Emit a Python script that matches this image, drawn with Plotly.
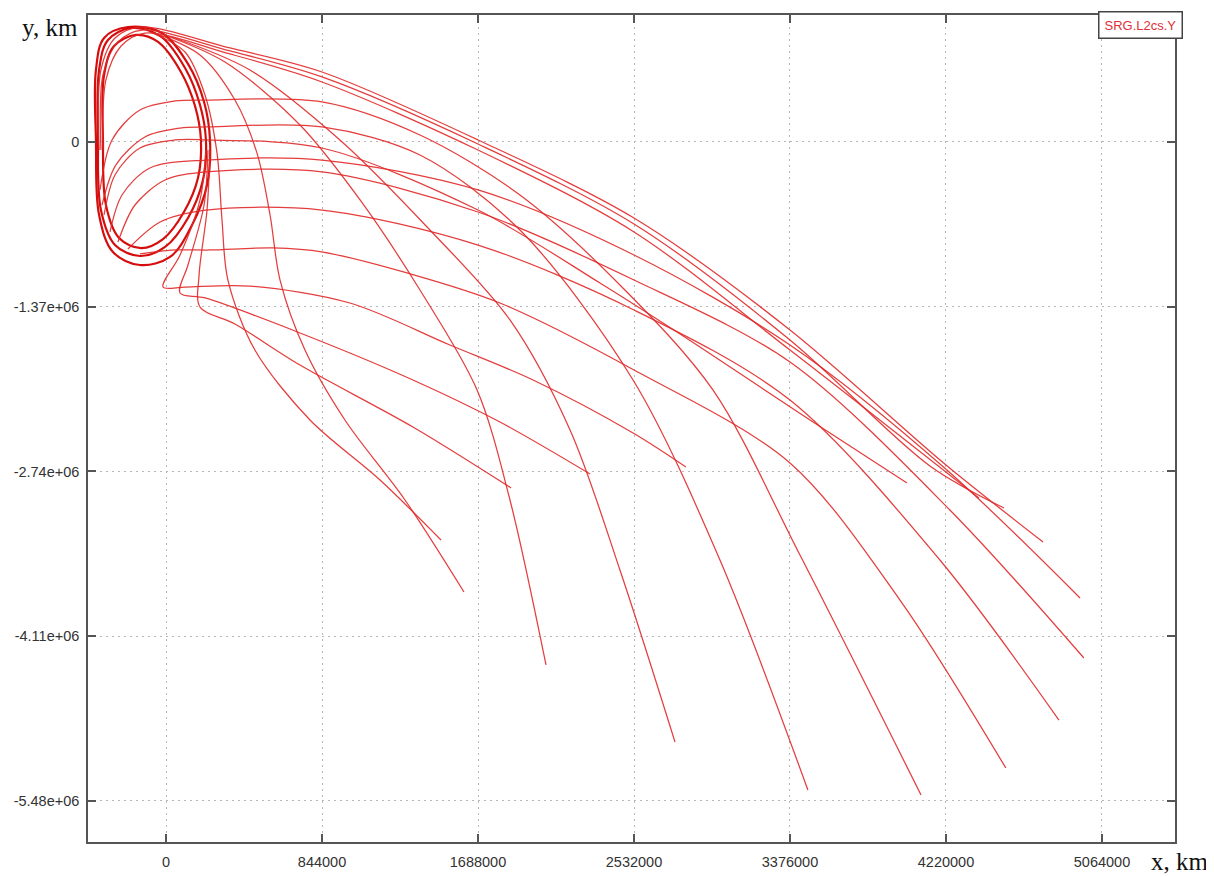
import plotly.graph_objects as go

# ---- axis ticks ----
x_tick_vals = [0, 844000, 1688000, 2532000, 3376000, 4220000, 5064000]
x_tick_text = ["0", "844000", "1688000", "2532000", "3376000", "4220000", "5064000"]
y_tick_vals = [0, -1370000, -2740000, -4110000, -5480000]
y_tick_text = ["0", "-1.37e+06", "-2.74e+06", "-4.11e+06", "-5.48e+06"]

# ---- halo orbit passes (km) ----
halo1_x = [-189e3, -314e3, -362e3, -368e3, -352e3, -276e3, -141e3, -5e3, 119e3, 200e3, 216e3, 184e3, 103e3, -32e3, -189e3]
halo1_y = [948e3, 848e3, 599e3, 17e3, -566e3, -857e3, -948e3, -873e3, -632e3, -316e3, 17e3, 308e3, 615e3, 882e3, 948e3]
halo2_x = [-162e3, -281e3, -335e3, -341e3, -325e3, -254e3, -135e3, -16e3, 97e3, 173e3, 189e3, 157e3, 81e3, -43e3, -162e3]
halo2_y = [890e3, 798e3, 557e3, 17e3, -524e3, -798e3, -882e3, -807e3, -582e3, -299e3, 17e3, 299e3, 582e3, 832e3, 890e3]
halo3_x = [-206e3, -335e3, -379e3, -379e3, -362e3, -287e3, -141e3, 22e3, 141e3, 222e3, 238e3, 206e3, 119e3, -22e3, -206e3]
halo3_y = [956e3, 865e3, 599e3, 17e3, -607e3, -915e3, -1023e3, -956e3, -690e3, -358e3, 17e3, 333e3, 649e3, 906e3, 956e3]

# ---- departing trajectories (km) ----
traj01_x = [-87e3, 103e3, 211e3, 276e3, 303e3, 335e3, 481e3, 779e3, 1158e3, 1488e3]
traj01_y = [915e3, 748e3, 391e3, -91e3, -649e3, -1148e3, -1730e3, -2312e3, -2811e3, -3310e3]
traj02_x = [-60e3, 184e3, 373e3, 492e3, 563e3, 617e3, 752e3, 968e3, 1293e3, 1612e3]
traj02_y = [906e3, 724e3, 349e3, -91e3, -607e3, -1148e3, -1730e3, -2312e3, -2977e3, -3742e3]
traj03_x = [238e3, 222e3, 179e3, 184e3, 373e3, 725e3, 1336e3, 1867e3]
traj03_y = [-67e3, -566e3, -1106e3, -1372e3, -1514e3, -1855e3, -2370e3, -2877e3]
traj04_x = [-22e3, 319e3, 725e3, 1050e3, 1374e3, 1683e3, 1861e3, 2056e3]
traj04_y = [898e3, 665e3, 141e3, -482e3, -1231e3, -2062e3, -2977e3, -4349e3]
traj05_x = [227e3, 206e3, 119e3, 76e3, 211e3, 725e3, 1336e3, 1807e3, 2294e3]
traj05_y = [-67e3, -524e3, -1023e3, -1256e3, -1297e3, -1588e3, -1979e3, -2329e3, -2761e3]
traj06_x = [32e3, 454e3, 941e3, 1428e3, 1861e3, 2186e3, 2456e3, 2754e3]
traj06_y = [873e3, 599e3, 17e3, -732e3, -1480e3, -2395e3, -3559e3, -4990e3]
traj07_x = [216e3, 184e3, 76e3, -16e3, 103e3, 454e3, 995e3, 1536e3, 1986e3, 2527e3, 2813e3]
traj07_y = [-67e3, -482e3, -940e3, -1206e3, -1206e3, -1198e3, -1339e3, -1688e3, -1979e3, -2420e3, -2703e3]
traj08_x = [-346e3, -271e3, -114e3, 76e3, 216e3, 844e3, 1374e3, 1915e3, 2527e3, 2997e3, 3473e3]
traj08_y = [-524e3, -191e3, 42e3, 116e3, 125e3, 125e3, -108e3, -732e3, -1979e3, -3476e3, -5389e3]
traj09_x = [-335e3, -276e3, -141e3, 49e3, 216e3, 844e3, 1688e3, 2348e3, 2889e3, 3484e3, 4009e3]
traj09_y = [-607e3, -274e3, -50e3, 17e3, 17e3, -50e3, -566e3, -1173e3, -1705e3, -2312e3, -2836e3]
traj10_x = [-357e3, -292e3, -141e3, 49e3, 216e3, 844e3, 1374e3, 1915e3, 2456e3, 2959e3, 3430e3, 4085e3]
traj10_y = [-399e3, 17e3, 266e3, 341e3, 349e3, 333e3, 58e3, -441e3, -1189e3, -2062e3, -3435e3, -5430e3]
traj11_x = [-341e3, -325e3, -243e3, -114e3, 346e3, 844e3, 1688e3, 2532e3, 3376e3, 4398e3]
traj11_y = [-67e3, 516e3, 798e3, 906e3, 732e3, 499e3, -67e3, -748e3, -1730e3, -2961e3]
traj12_x = [-352e3, -341e3, -260e3, -130e3, 346e3, 844e3, 1688e3, 2532e3, 3376e3, 4133e3, 4534e3]
traj12_y = [-67e3, 557e3, 832e3, 931e3, 757e3, 541e3, -17e3, -682e3, -1647e3, -2694e3, -3044e3]
traj13_x = [-141e3, 49e3, 238e3, 579e3, 849e3, 1304e3, 1807e3, 2532e3, 3376e3, 3971e3, 4544e3]
traj13_y = [-931e3, -898e3, -898e3, -881e3, -915e3, -1089e3, -1339e3, -1896e3, -2669e3, -3809e3, -5206e3]
traj14_x = [-362e3, -352e3, -276e3, -141e3, 346e3, 844e3, 1688e3, 2532e3, 3376e3, 4220e3, 4745e3]
traj14_y = [-67e3, 599e3, 865e3, 956e3, 782e3, 582e3, 17e3, -632e3, -1563e3, -2686e3, -3326e3]
traj15_x = [-206e3, -32e3, 216e3, 844e3, 1688e3, 2532e3, 3376e3, 4187e3, 4831e3]
traj15_y = [-890e3, -665e3, -566e3, -566e3, -857e3, -1397e3, -2146e3, -3476e3, -4807e3]
traj16_x = [-303e3, -238e3, -87e3, 216e3, 844e3, 1688e3, 2532e3, 3376e3, 4225e3, 4945e3]
traj16_y = [-748e3, -441e3, -216e3, -150e3, -150e3, -399e3, -940e3, -1688e3, -2728e3, -3792e3]
traj17_x = [-260e3, -168e3, -5e3, 216e3, 844e3, 1688e3, 2532e3, 3376e3, 4241e3, 4966e3]
traj17_y = [-832e3, -524e3, -316e3, -249e3, -249e3, -582e3, -1148e3, -1830e3, -3060e3, -4291e3]

halos = [(halo1_x, halo1_y), (halo2_x, halo2_y), (halo3_x, halo3_y)]
trajs = [
    (traj01_x, traj01_y), (traj02_x, traj02_y), (traj03_x, traj03_y), (traj04_x, traj04_y),
    (traj05_x, traj05_y), (traj06_x, traj06_y), (traj07_x, traj07_y), (traj08_x, traj08_y),
    (traj09_x, traj09_y), (traj10_x, traj10_y), (traj11_x, traj11_y), (traj12_x, traj12_y),
    (traj13_x, traj13_y), (traj14_x, traj14_y), (traj15_x, traj15_y), (traj16_x, traj16_y),
    (traj17_x, traj17_y),
]

RED = "rgba(225,40,40,0.9)"
fig = go.Figure()
for hx, hy in halos:
    fig.add_trace(go.Scatter(x=hx, y=hy, mode="lines",
                             line=dict(color="rgba(212,0,0,0.95)", width=2.2, shape="spline", smoothing=1.0),
                             hoverinfo="skip", showlegend=False))
for tx, ty in trajs:
    fig.add_trace(go.Scatter(x=tx, y=ty, mode="lines",
                             line=dict(color=RED, width=1.25, shape="spline", smoothing=0.9),
                             hoverinfo="skip", showlegend=False))

tick_font = dict(family="Liberation Sans, Arial, sans-serif", size=14.5, color="#333333")
axis_common = dict(showline=True, linecolor="#555555", linewidth=1.5, mirror="allticks",
                   ticks="inside", ticklen=8, tickwidth=1.5, tickcolor="#555555",
                   showgrid=True, gridcolor="#b8b8b8", gridwidth=1, griddash="2px,4px",
                   zeroline=False, tickfont=tick_font)

fig.update_xaxes(range=[-422000, 5459000], tickvals=x_tick_vals, ticktext=x_tick_text,
                 ticklabelstandoff=6, **axis_common)
fig.update_yaxes(range=[-5821000, 1056000], tickvals=y_tick_vals, ticktext=y_tick_text,
                 ticklabelstandoff=4, **axis_common)

# page body adds an 8px offset; size/margins chosen so the plot box lands on the reference frame
fig.update_layout(
    width=1204, height=867,
    margin=dict(l=80, r=37, t=7, b=33, autoexpand=False),
    plot_bgcolor="white", paper_bgcolor="white",
    annotations=[
        dict(text="y, km", xref="paper", yref="paper", x=-0.035, y=0.985, xanchor="center", yanchor="middle",
             showarrow=False, font=dict(family="Liberation Serif, Times New Roman, serif", size=25, color="#111111")),
        dict(text="x, km", xref="paper", yref="paper", x=1.0046, y=-0.024, xanchor="center", yanchor="middle",
             showarrow=False, font=dict(family="Liberation Serif, Times New Roman, serif", size=25, color="#111111")),
        dict(text="SRG.L2cs.Y", xref="paper", yref="paper", x=0.9687, y=0.988, xanchor="center", yanchor="middle",
             showarrow=False, bgcolor="white", bordercolor="#444444", borderwidth=1.5, borderpad=5,
             font=dict(family="Liberation Sans, Arial, sans-serif", size=13, color="#e0303a")),
    ],
)

fig.write_html("out.html")
